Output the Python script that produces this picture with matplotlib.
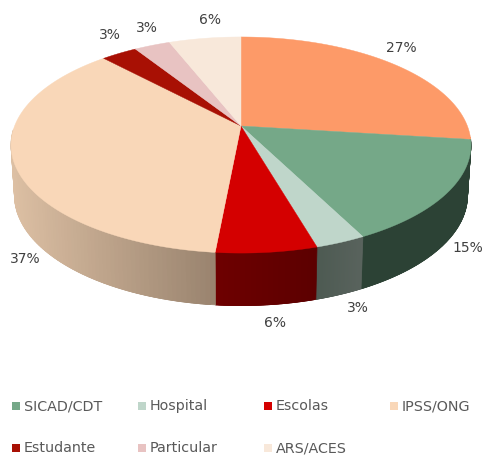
"""Pizza 3D em perspectiva: distribuicao por origem do encaminhamento."""

import numpy as np
import matplotlib

matplotlib.use("Agg")
import matplotlib.pyplot as plt
from matplotlib.colors import to_rgb

# dados, no sentido dos ponteiros a partir das 12h
categories = ["", "SICAD/CDT", "Hospital", "Escolas", "IPSS/ONG", "Estudante", "Particular", "ARS/ACES"]
values = [27, 15.5, 3, 6, 36.5, 3, 3, 6]
pct_labels = ["27%", "15%", "3%", "6%", "37%", "3%", "3%", "6%"]

top_colors = ["#FD9A68", "#75A888", "#BFD6CA", "#D40000", "#F9D7B8", "#A81004", "#E8C3C2", "#F8E8DA"]
# cor da parede no inicio e no fim de cada fatia (sentido horario)
wall_start = ["#FD9A68", "#2C4235", "#59635D", "#5C0000", "#9A846F", "#A81004", "#E8C3C2", "#F8E8DA"]
wall_end = ["#FD9A68", "#2C4235", "#4D5A52", "#6E0000", "#DCBFA3", "#A81004", "#E8C3C2", "#F8E8DA"]

# geometria em pixeis
CX, CY = 241, 126
RX, RY, K = 226.4, 104.7, 0.176
DEPTH = 50
TXT = "#404040"

label_pos = [(401, 48), (468, 248), (358, 308), (275, 323), (25, 259), (110, 35), (147, 28), (210, 20)]
legend_x = [12, 138, 264, 390, 12, 138, 264]
legend_y = [406, 406, 406, 406, 448, 448, 448]


def top_xy(theta):
    """Angulo (horario, a partir do topo) -> pixel na face superior."""
    u, v = np.sin(theta), np.cos(theta)
    w = 1 + K * v
    return CX + RX * u / w, CY - RY * v / w


def bottom_xy(theta):
    x, y = top_xy(theta)
    return CX + (x - CX) * 0.985, CY + (y - CY) * 1.02 + DEPTH


plt.rcParams["font.family"] = ["DejaVu Sans"]
fig = plt.figure(figsize=(4.85, 4.59), dpi=100)
ax = fig.add_axes([0, 0, 1, 1])
ax.set_xlim(0, 485)
ax.set_ylim(459, 0)
ax.axis("off")

edges = np.cumsum([0] + values) / sum(values) * 2 * np.pi
VIS_A, VIS_B = np.radians(96), np.radians(268)

# paredes laterais (so a parte visivel), em tiras sobrepostas para o gradiente
for i in range(len(values)):
    a, b = max(edges[i], VIS_A), min(edges[i + 1], VIS_B)
    if b <= a:
        continue
    th = np.linspace(a, b, 80)
    xt, yt = top_xy(th)
    xb, yb = bottom_xy(th)
    c0, c1 = np.array(to_rgb(wall_start[i])), np.array(to_rgb(wall_end[i]))
    for j in range(len(th) - 1):
        f = (xt[j] - xt[0]) / (xt[-1] - xt[0])
        col = c0 * (1 - f) + c1 * f
        k = min(j + 3, len(th))
        ax.fill(np.r_[xt[j:k], xb[j:k][::-1]], np.r_[yt[j:k], yb[j:k][::-1]],
                color=col, lw=0.5, zorder=1)

# face superior
for i in range(len(values)):
    th = np.linspace(edges[i], edges[i + 1], 120)
    x, y = top_xy(th)
    ax.fill(np.r_[CX, x], np.r_[CY, y], color=top_colors[i], lw=0.3, zorder=2)

for (x, y), s in zip(label_pos, pct_labels):
    ax.text(x, y, s, ha="center", va="center", fontsize=10, color=TXT)

# legenda (a primeira categoria nao aparece no original)
for cat, col, x, y in zip(categories[1:], top_colors[1:], legend_x, legend_y):
    ax.fill([x, x + 8, x + 8, x], [y - 4, y - 4, y + 4, y + 4], color=col, lw=0)
    ax.text(x + 12, y, cat, ha="left", va="center", fontsize=10.3, color="#595959")

fig.savefig("out.png", dpi=100)
